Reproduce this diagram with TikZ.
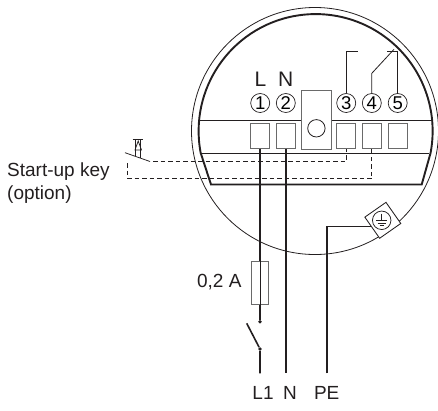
\documentclass[tikz,border=0pt]{standalone}
\usepackage{fontspec}
\setmainfont{Liberation Sans}
\usetikzlibrary{calc}
\definecolor{ink}{HTML}{231F20}
\definecolor{boxgray}{HTML}{6A6A6A}
\tikzset{
  x=1pt,y=-1pt,
  housing/.style={draw=ink,line width=0.8pt},
  housingthick/.style={draw=ink,line width=1.9pt},
  thinline/.style={draw=ink,line width=0.75pt},
  term/.style={draw=boxgray,line width=1.1pt,minimum width=19pt,minimum height=25.4pt,inner sep=0pt,outer sep=0pt},
  numcirc/.style={circle,draw=ink,line width=0.7pt,minimum size=19pt,inner sep=0pt,font=\fontsize{18.5}{18.5}\selectfont},
  wire/.style={draw=ink,line width=1.6pt},
  dashwire/.style={draw=ink,line width=0.75pt,dash pattern=on 4.5pt off 3pt},
  relay/.style={draw=ink,line width=0.8pt},
  lab/.style={inner sep=0pt,text=ink,font=\fontsize{19}{19}\selectfont},
  biglab/.style={inner sep=0pt,text=ink,font=\fontsize{21}{21}\selectfont},
  dotc/.style={circle,fill=ink,inner sep=0pt,minimum size=3.8pt},
}
\begin{document}
\begin{tikzpicture}
\useasboundingbox (0,0) rectangle (438,410);
\coordinate (c) at (315,131);
\draw[housing] (c) circle[radius=123.5pt];
\draw[housingthick] (200.7,153) arc[start angle=190.8,end angle=-10.8,radius=117pt] -- (421.7,184.5) -- (211,184.5) -- cycle;
\draw[thinline] (200.7,153) -- (429.3,153);
\draw[thinline] (199.5,120.7) -- (430.5,120.7);
% terminal block
\node[term] (t1) at (260.2,136) {};
\node[term] (t2) at (285.8,136) {};
\node[term] (t3) at (346.2,136) {};
\node[term] (t4) at (371.8,136) {};
\node[term] (t5) at (397.7,136) {};
\node[draw=boxgray,fill=white,line width=1.1pt,minimum width=29.8pt,minimum height=59pt,inner sep=0pt] (blk) at (316.6,120.2) {};
\node[circle,draw=ink,line width=0.8pt,minimum size=17.4pt,inner sep=0pt] (hole) at (316.4,128.3) {};
% numbers
\node[numcirc] (n1) at (260.2,103) {1};
\node[numcirc] (n2) at (285.8,103) {2};
\node[numcirc] (n3) at (346.2,103) {3};
\node[numcirc] (n4) at (371.8,103) {4};
\node[numcirc] (n5) at (397.7,103) {5};
\node[biglab] (lL) at (260.5,79.5) {L};
\node[biglab] (lN) at (285.8,79.5) {N};
% relay contact
\coordinate (r3e) at (358,51.7);
\coordinate (r5e) at (386.7,51.7);
\coordinate (r4e) at (394,49.3);
\draw[relay] (n3.north) -- (n3.north |- r3e) -- (r3e);
\draw[relay] (n5.north) -- (n5.north |- r5e) -- (r5e);
\draw[relay] (n4.north) -- (371.8,73.3) -- (r4e);
% startup key
\coordinate (k1) at (125,152.7);
\coordinate (k2) at (150,161.5);
\coordinate (k3) at (127.7,163);
\coordinate (k4) at (127.7,178.7);
\draw[thinline] (k1) -- (k2);
\draw[dashwire] ($(k2)+(3,0)$) -- (t3.south |- k2) -- (t3.south);
\draw[dashwire] (k3) -- (k4) -- (t4.south |- k4) -- (t4.south);
\draw[thinline] (132.7,139.5) -- (142.9,139.5) (135.6,139.5) -- (135.6,156) (140.8,139.5) -- (140.8,157.5);
\draw[thinline] (135,150) -- (138.2,141) -- (141.5,150) -- cycle;
% mains
\node[draw=boxgray,line width=1.1pt,minimum width=17.7pt,minimum height=42.6pt,inner sep=0pt] (fuse) at (259.9,283) {};
\node[dotc] (d1) at (260,321.7) {};
\node[dotc] (d2) at (260,349) {};
\coordinate (sw) at (246.7,323.3);
\node[lab] (L1) at (263,393) {L1};
\node[lab] (N) at (290,393) {N};
\node[lab] (PE) at (326.7,393) {PE};
\coordinate (L1t) at (260,373.3);
\coordinate (Nt) at (286,373.3);
\coordinate (PEt) at (326.7,373.3);
\draw[wire] (t1.south -| d1) -- (fuse.north -| d1);
\draw[thinline] (fuse.north -| d1) -- (fuse.south -| d1);
\draw[wire] (fuse.south -| d1) -- (d1);
\draw[wire] (sw) -- (d2) -- (L1t);
\draw[wire] (t2.south -| Nt) -- (Nt);
% earth
\node[draw=ink,fill=white,line width=0.85pt,minimum size=25.8pt,inner sep=0pt,rotate=35] (esq) at (382.8,220.3) {};
\node[circle,draw=ink,line width=0.75pt,minimum size=18.5pt,inner sep=0pt] (ecirc) at (381.7,220.3) {};
\draw[thinline] (381.7,213.5) -- (381.7,220.5);
\draw[thinline] (376,220.5) -- (387.4,220.5);
\draw[thinline] (377.5,223) -- (385.9,223);
\draw[thinline] (379.5,225.5) -- (383.9,225.5);
\draw[wire] (PEt) -- (326.7,226.4) -- (371,226.4);
% texts
\node[lab,anchor=west] (sk) at (7,172) {Start-up key};
\node[lab,anchor=west] (op) at (7,195) {(option)};
\node[lab,anchor=east] (fa) at (241.7,281.7) {0,2 A};
\end{tikzpicture}
\end{document}
